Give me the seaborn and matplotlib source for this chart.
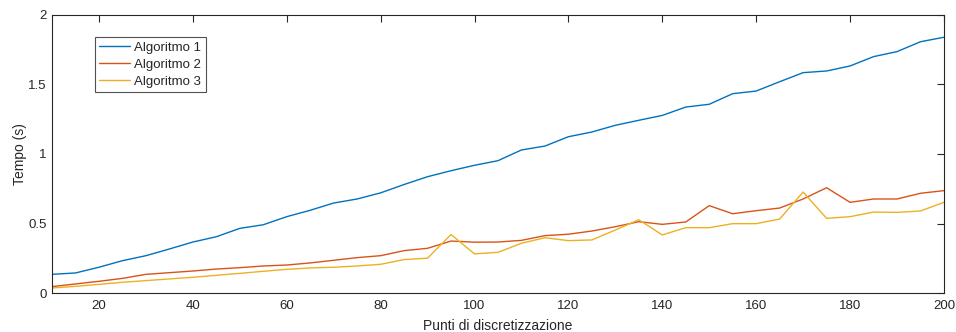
import numpy as np
import pandas as pd
import matplotlib as mpl
mpl.use('Agg')
import matplotlib.pyplot as plt
from matplotlib.ticker import FormatStrFormatter
import seaborn as sns

# Data
punti = list(range(10, 205, 5))
algoritmo_1 = [0.136, 0.146, 0.187, 0.234, 0.270, 0.318, 0.368, 0.406, 0.466, 0.492,
               0.550, 0.596, 0.648, 0.677, 0.721, 0.781, 0.837, 0.880, 0.919, 0.952,
               1.029, 1.057, 1.124, 1.158, 1.206, 1.242, 1.277, 1.337, 1.357, 1.433,
               1.452, 1.519, 1.584, 1.596, 1.632, 1.699, 1.735, 1.806, 1.838]
algoritmo_2 = [0.048, 0.067, 0.086, 0.107, 0.136, 0.148, 0.160, 0.174, 0.184, 0.196,
               0.203, 0.218, 0.237, 0.256, 0.270, 0.306, 0.323, 0.375, 0.367, 0.368,
               0.380, 0.414, 0.424, 0.447, 0.478, 0.514, 0.495, 0.512, 0.629, 0.571,
               0.593, 0.612, 0.677, 0.758, 0.653, 0.677, 0.677, 0.718, 0.737]
algoritmo_3 = [0.038, 0.050, 0.064, 0.079, 0.091, 0.103, 0.115, 0.129, 0.143, 0.158,
               0.172, 0.182, 0.187, 0.196, 0.208, 0.242, 0.252, 0.422, 0.283, 0.294,
               0.359, 0.399, 0.378, 0.383, 0.454, 0.528, 0.419, 0.471, 0.471, 0.500,
               0.500, 0.533, 0.727, 0.538, 0.550, 0.583, 0.581, 0.591, 0.653]
nomi = ['Algoritmo 1', 'Algoritmo 2', 'Algoritmo 3']
colori = ['#0072BD', '#D95319', '#EDB120']

df = pd.DataFrame({
    'Punti': punti * 3,
    'Tempo': algoritmo_1 + algoritmo_2 + algoritmo_3,
    'Serie': [n for n in nomi for _ in punti],
})

sns.set_theme(style='white')
plt.rcParams['font.family'] = ['Liberation Sans', 'DejaVu Sans']

fig = plt.figure(figsize=(9.56, 3.32), dpi=100)
ax = fig.add_axes([0.0544, 0.1166, 0.933, 0.8391])

sns.lineplot(data=df, x='Punti', y='Tempo', hue='Serie', palette=colori,
             linewidth=1.0, ax=ax)

ax.set_xlim(10, 200)
ax.set_ylim(0, 2)
ax.set_xticks([20, 40, 60, 80, 100, 120, 140, 160, 180, 200])
ax.set_yticks([0, 0.5, 1, 1.5, 2])
ax.yaxis.set_major_formatter(FormatStrFormatter('%g'))
ax.set_xlabel('Punti di discretizzazione', fontsize=10, color='#262626', labelpad=5)
ax.set_ylabel('Tempo (s)', fontsize=10, color='#262626', labelpad=1)

for s in ax.spines.values():
    s.set_visible(True)
    s.set_color('#262626')
    s.set_linewidth(0.8)
ax.tick_params(direction='in', length=5, width=0.8, top=True, right=True,
               labelsize=9.5, colors='#262626', pad=5)
ax.tick_params(axis='y', pad=4)

leg = ax.legend(loc='upper left', bbox_to_anchor=(0.048, 0.92), borderaxespad=0,
                frameon=True, fancybox=False, fontsize=9.5, handlelength=2.35,
                labelspacing=0.35, borderpad=0.35, handletextpad=0.3)
leg.get_frame().set_edgecolor('#262626')
leg.get_frame().set_linewidth(0.8)
for line in leg.get_lines():
    line.set_linewidth(1.0)

fig.savefig('out.png', dpi=100)
